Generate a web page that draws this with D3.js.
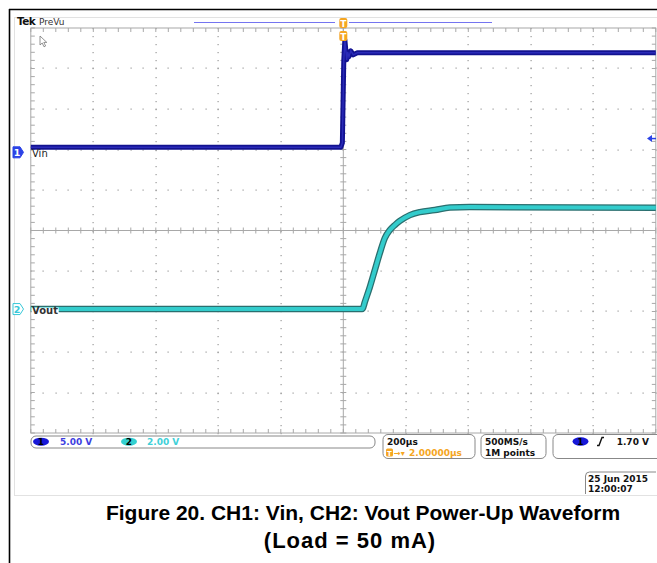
<!DOCTYPE html>
<html><head><meta charset="utf-8">
<script src="https://cdn.jsdelivr.net/npm/d3@7"></script>
<style>body{margin:0;background:#fff}svg{display:block}</style>
</head><body>
<script>
// ---- data ----
const timeVin = [-1000, -8, -3, 1.6, 5, 8, 11, 14, 18, 24, 32, 45, 1000];       // µs
const vin     = [0.62, 0.62, 1.17, 11.42, 13.89, 12.65, 11.42, 12.41, 11.79, 12.53, 12.04, 12.28, 12.28]; // V
const timeVout = [-1000, 60, 62, 69, 85, 101, 117, 133, 149, 165, 181, 213, 245, 293, 341, 405, 1000];
const vout     = [0, 0, 0.02, 0.35, 1.09, 1.93, 2.77, 3.51, 3.90, 4.15, 4.35, 4.64, 4.79, 4.89, 5.01, 5.04, 5.0];
const channelLabels = ["Vin", "Vout"];
const voltsPerDiv = [5, 2];
const channelPosDiv = [1.93, -1.94];
const statusScale = ["5.00 V", "2.00 V"];
const timebase = ["200µs", "2.00000µs"];
const acq = ["500MS/s", "1M points"];
const trigLevel = 1.70;
const trigText = "1.70 V";
const dateText = ["25 Jun 2015", "12:00:07"];
const caption = ["Figure 20. CH1: Vin, CH2: Vout Power-Up Waveform", "(Load = 50 mA)"];

(function () {
const W = 657, H = 563;
const svg = d3.select("body").append("svg").attr("width", W).attr("height", H);
const FONT = "DejaVu Sans";

const x = d3.scaleLinear().domain([-1000, 1000]).range([30.8, 655.8]);
const yd = d3.scaleLinear().domain([-5, 5]).range([433, 28]);
const yV = (ch, v) => yd(channelPosDiv[ch] + v / voltsPerDiv[ch]);

// page frame
svg.append("line").attr("x1", 9).attr("x2", W).attr("y1", 9.5).attr("y2", 9.5).attr("stroke", "#000").attr("stroke-width", 1.6);
svg.append("line").attr("x1", 9.5).attr("x2", 9.5).attr("y1", 9).attr("y2", H).attr("stroke", "#000").attr("stroke-width", 1.6);
svg.append("rect").attr("x", 14.5).attr("y", 17.5).attr("width", 660).attr("height", 478).attr("fill", "none").attr("stroke", "#e2e2e2");

// header
svg.append("text").attr("x", 17).attr("y", 25).attr("font-family", FONT).attr("font-weight", "bold").attr("font-size", 10.5).attr("fill", "#111").attr("letter-spacing", -0.6).text("Tek");
svg.append("text").attr("x", 39).attr("y", 25).attr("font-family", FONT).attr("font-size", 9).attr("fill", "#333").text("PreVu");
svg.append("line").attr("x1", 194).attr("x2", 335).attr("y1", 22.5).attr("y2", 22.5).attr("stroke", "#7474f0").attr("stroke-width", 1.2);
svg.append("line").attr("x1", 349).attr("x2", 492).attr("y1", 22.5).attr("y2", 22.5).attr("stroke", "#7474f0").attr("stroke-width", 1.2);

// graticule
const g = svg.append("g");
const gL = x(-1000), gR = x(1000), gT = yd(5), gB = yd(-5);
const xMinor = d3.range(-1000, 1000.01, 40);
const yMinor = d3.range(-5, 5.001, 0.2);
const xMajor = d3.range(-1000, 1000.01, 200);
const yMajor = d3.range(-5, 5.001, 1);
xMajor.filter(t => Math.abs(t) > 1 && Math.abs(t) !== 1000).forEach(t => {
  yMinor.forEach(v => g.append("rect").attr("x", Math.round(x(t)) - 0.5).attr("y", Math.round(yd(v))).attr("width", 1.2).attr("height", 1.2).attr("fill", "#9a9a9a"));
});
yMajor.filter(v => Math.abs(v) > 0.01 && Math.abs(v) !== 5).forEach(v => {
  xMinor.forEach(t => g.append("rect").attr("x", Math.round(x(t)) - 0.5).attr("y", Math.round(yd(v)) - 0.5).attr("width", 1.2).attr("height", 1.2).attr("fill", "#9a9a9a"));
});
const gc = "#a8a8a8";
g.append("rect").attr("x", gL).attr("y", gT).attr("width", gR - gL).attr("height", gB - gT).attr("fill", "none").attr("stroke", gc).attr("stroke-width", 1);
g.append("line").attr("x1", gL).attr("x2", gR).attr("y1", yd(0)).attr("y2", yd(0)).attr("stroke", gc);
g.append("line").attr("x1", x(0)).attr("x2", x(0)).attr("y1", gT).attr("y2", gB).attr("stroke", gc);
xMinor.forEach(t => {
  const xx = x(t);
  g.append("line").attr("x1", xx).attr("x2", xx).attr("y1", gT).attr("y2", gT + 4).attr("stroke", gc);
  g.append("line").attr("x1", xx).attr("x2", xx).attr("y1", gB).attr("y2", gB - 4).attr("stroke", gc);
  g.append("line").attr("x1", xx).attr("x2", xx).attr("y1", yd(0) - 3).attr("y2", yd(0) + 3).attr("stroke", gc);
});
yMinor.forEach(v => {
  const yy = yd(v);
  g.append("line").attr("x1", gL).attr("x2", gL + 4).attr("y1", yy).attr("y2", yy).attr("stroke", gc);
  g.append("line").attr("x1", gR).attr("x2", gR - 4).attr("y1", yy).attr("y2", yy).attr("stroke", gc);
  g.append("line").attr("x1", x(0) - 3).attr("x2", x(0) + 3).attr("y1", yy).attr("y2", yy).attr("stroke", gc);
});

// traces
const lineVout = d3.line().x((d, i) => x(timeVout[i])).y(d => yV(1, d)).curve(d3.curveMonotoneX);
svg.append("path").attr("d", lineVout(vout)).attr("fill", "none").attr("stroke", "#2a6f6f").attr("stroke-width", 6.5);
svg.append("path").attr("d", lineVout(vout)).attr("fill", "none").attr("stroke", "#33cccc").attr("stroke-width", 4);
const lineVin = d3.line().x((d, i) => x(timeVin[i])).y(d => yV(0, d));
svg.append("path").attr("d", lineVin(vin)).attr("fill", "none").attr("stroke", "#121290").attr("stroke-width", 5).attr("stroke-linejoin", "round");
svg.append("path").attr("d", lineVin(vin)).attr("fill", "none").attr("stroke", "#2a2ab8").attr("stroke-width", 1.5);

// channel markers & labels
function chLabel(ch, fill, stroke, txtColor, numColor) {
  const yy = yV(ch, 0);
  svg.append("path").attr("d", `M13,${yy - 5.5} h7 l3.5,5.5 l-3.5,5.5 h-7 z`).attr("fill", fill).attr("stroke", stroke);
  svg.append("text").attr("x", 17).attr("y", yy + 4).attr("text-anchor", "middle").attr("font-family", FONT).attr("font-weight", "bold").attr("font-size", 9.5).attr("fill", numColor).text(ch + 1);
  const bg = svg.append("rect").attr("fill", "#fff");
  const t = svg.append("text").attr("x", 32).attr("y", yy + 4.5).attr("font-family", FONT).attr("font-size", 10).attr("font-weight", ch ? "bold" : "normal").attr("fill", txtColor).text(channelLabels[ch]);
  const bb = t.node().getBBox();
  bg.attr("x", 31.5).attr("y", yy - 1.5).attr("width", bb.width + 1).attr("height", 8);
}
chLabel(0, "#2b43e6", "#2b43e6", "#222", "#fff");
chLabel(1, "#fff", "#38c8d8", "#333", "#38c8d8");

// trigger level arrow
const ty = yV(0, trigLevel);
svg.append("path").attr("d", `M647,${ty} l5,-3.5 v7 z`).attr("fill", "#2b43e6");
svg.append("line").attr("x1", 651).attr("x2", 656).attr("y1", ty).attr("y2", ty).attr("stroke", "#2b43e6").attr("stroke-width", 1.5);

// trigger position markers
function tMark(cy) {
  const cx = x(0);
  svg.append("rect").attr("x", cx - 4).attr("y", cy - 5).attr("width", 8).attr("height", 10).attr("rx", 2).attr("fill", "#f5a623");
  svg.append("text").attr("x", cx).attr("y", cy + 3.5).attr("text-anchor", "middle").attr("font-family", FONT).attr("font-weight", "bold").attr("font-size", 9).attr("fill", "#fff").text("T");
}
tMark(23);
tMark(36);

// mouse pointer
svg.append("path").attr("d", "M40,36 v9 l2.2,-2 l1.8,3.8 l1.6,-0.8 l-1.8,-3.6 h3 z").attr("fill", "#fff").attr("stroke", "#777").attr("stroke-width", 0.8);

// status bar
const st = svg.append("g").attr("font-family", FONT).attr("font-weight", "bold").attr("font-size", 9);
st.append("rect").attr("x", 31).attr("y", 436).attr("width", 344).attr("height", 12).attr("rx", 5).attr("fill", "#fff").attr("stroke", "#888");
st.append("ellipse").attr("cx", 41).attr("cy", 441.7).attr("rx", 8).attr("ry", 4).attr("fill", "#1717d8");
st.append("text").attr("x", 41).attr("y", 445).attr("text-anchor", "middle").attr("fill", "#000").text("1");
st.append("text").attr("x", 60).attr("y", 445).attr("fill", "#3e3ee0").text(statusScale[0]);
st.append("ellipse").attr("cx", 129).attr("cy", 441.7).attr("rx", 8).attr("ry", 4).attr("fill", "#33d0d0");
st.append("text").attr("x", 129).attr("y", 445).attr("text-anchor", "middle").attr("fill", "#000").text("2");
st.append("text").attr("x", 147).attr("y", 445).attr("fill", "#40d0d8").text(statusScale[1]);

st.append("rect").attr("x", 383).attr("y", 434.5).attr("width", 92).attr("height", 24).attr("rx", 5).attr("fill", "#fff").attr("stroke", "#888");
st.append("text").attr("x", 387).attr("y", 445).attr("fill", "#111").text(timebase[0]);
st.append("rect").attr("x", 386).attr("y", 448.5).attr("width", 7).attr("height", 8).attr("rx", 1.5).attr("fill", "#f5a623");
st.append("text").attr("x", 389.5).attr("y", 455.5).attr("text-anchor", "middle").attr("font-size", 7).attr("fill", "#fff").text("T");
st.append("text").attr("x", 394).attr("y", 455.5).attr("fill", "#f5a623").attr("font-size", 8).text("→▾");
st.append("text").attr("x", 409).attr("y", 456).attr("fill", "#f5a623").text(timebase[1]);

st.append("rect").attr("x", 481).attr("y", 434.5).attr("width", 65).attr("height", 24).attr("rx", 5).attr("fill", "#fff").attr("stroke", "#888");
st.append("text").attr("x", 485).attr("y", 445).attr("fill", "#111").text(acq[0]);
st.append("text").attr("x", 485).attr("y", 456).attr("fill", "#111").text(acq[1]);

st.append("rect").attr("x", 553).attr("y", 434.5).attr("width", 110).attr("height", 24).attr("rx", 5).attr("fill", "#fff").attr("stroke", "#888");
st.append("ellipse").attr("cx", 580.5).attr("cy", 441.5).attr("rx", 8).attr("ry", 4.2).attr("fill", "#1717d8");
st.append("text").attr("x", 580.5).attr("y", 445).attr("text-anchor", "middle").attr("fill", "#000").text("1");
st.append("path").attr("d", "M597,445.5 h2 l3,-8 h2").attr("fill", "none").attr("stroke", "#111").attr("stroke-width", 1.4);
st.append("text").attr("x", 649).attr("y", 445).attr("text-anchor", "end").attr("fill", "#111").text(trigText);

// date box
st.append("path").attr("d", "M585.5,494 V476 q0,-4 4,-4 H656").attr("fill", "none").attr("stroke", "#888");
st.append("text").attr("x", 588).attr("y", 482).attr("fill", "#111").text(dateText[0]);
st.append("text").attr("x", 588).attr("y", 492).attr("fill", "#111").text(dateText[1]);

// caption
const cap = svg.append("g").attr("font-family", "Liberation Sans, Arial, sans-serif").attr("font-weight", "bold").attr("fill", "#000").attr("text-anchor", "middle");
cap.append("text").attr("x", 363).attr("y", 519.5).attr("font-size", 21).text(caption[0]);
cap.append("text").attr("x", 350).attr("y", 547.5).attr("font-size", 22).attr("letter-spacing", 1).text(caption[1]);
})();
</script>
</body></html>
